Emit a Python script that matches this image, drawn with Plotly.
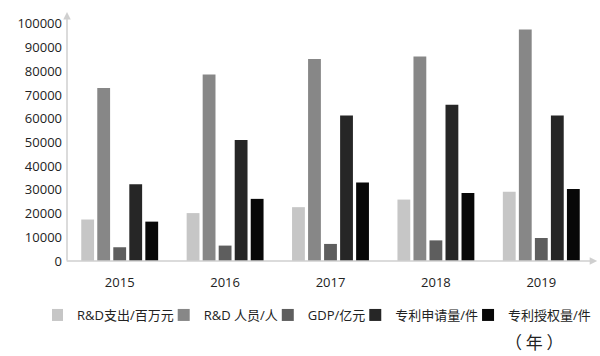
import plotly.graph_objects as go

years = ["2015", "2016", "2017", "2018", "2019"]
rd_spend = [17500, 20200, 22700, 25900, 29200]
rd_staff = [73000, 78600, 85200, 86200, 97600]
gdp = [5800, 6500, 7200, 8700, 9700]
patent_app = [32400, 51000, 61400, 65900, 61400]
patent_grant = [16600, 26200, 33100, 28700, 30400]

series_names = ["R&D支出/百万元", "R&D 人员/人", "GDP/亿元", "专利申请量/件", "专利授权量/件"]
series_vals = [rd_spend, rd_staff, gdp, patent_app, patent_grant]
colors = ["#c6c6c6", "#878787", "#5e5e5e", "#262626", "#080808"]
y_ticks = [0, 10000, 20000, 30000, 40000, 50000, 60000, 70000, 80000, 90000, 100000]

fig = go.Figure()
for name, vals, c in zip(series_names, series_vals, colors):
    fig.add_trace(go.Bar(x=years, y=vals, name=name, marker=dict(color=c, line=dict(width=0))))

L, R, T, B = 67, 6, 12, 95
pw, ph = 600 - L - R, 356 - T - B

txt = "#222222"
font_fam = "Open Sans, Noto Sans CJK SC, sans-serif"
fig.update_layout(
    width=600, height=356,
    margin=dict(l=L, r=R, t=T, b=B),
    paper_bgcolor="white", plot_bgcolor="white",
    barmode="group", bargap=0.24, bargroupgap=0.2,
    font=dict(family=font_fam, color=txt, size=13),
    showlegend=True,
    legend=dict(orientation="h", xref="paper", yref="paper",
                x=(52 - L) / pw, xanchor="left", y=(356 - B - 315) / ph, yanchor="middle",
                font=dict(size=13, color=txt), itemwidth=30, indentation=-15,
                tracegroupgap=0, traceorder="normal", borderwidth=0),
    xaxis=dict(showline=False, showgrid=False, ticks="", tickfont=dict(size=13, color=txt),
               ticklabelstandoff=12),
    yaxis=dict(range=[0, 105000], tickvals=y_ticks, ticktext=[str(v) for v in y_ticks],
               showgrid=False, zeroline=False, showline=False, ticks="",
               tickfont=dict(size=13, color=txt), ticklabelstandoff=4),
)

# axis arrows
fig.add_annotation(xref="paper", yref="paper", x=0, y=1, ax=0, ay=250, axref="pixel", ayref="pixel",
                   showarrow=True, arrowhead=2, arrowsize=1, arrowwidth=1.5, arrowcolor="#cfcfcf", text="")
fig.add_annotation(xref="paper", yref="paper", x=1.006, y=0, ax=-532, ay=0, axref="pixel", ayref="pixel",
                   showarrow=True, arrowhead=2, arrowsize=1, arrowwidth=1.5, arrowcolor="#cfcfcf", text="")
fig.add_annotation(xref="paper", yref="paper", x=(534 - L) / pw, y=(356 - B - 341) / ph,
                   xanchor="center", yanchor="middle", showarrow=False,
                   text="（ 年 ）", font=dict(size=17, color=txt, family="Noto Sans CJK SC"))

fig.write_html("out.html")
